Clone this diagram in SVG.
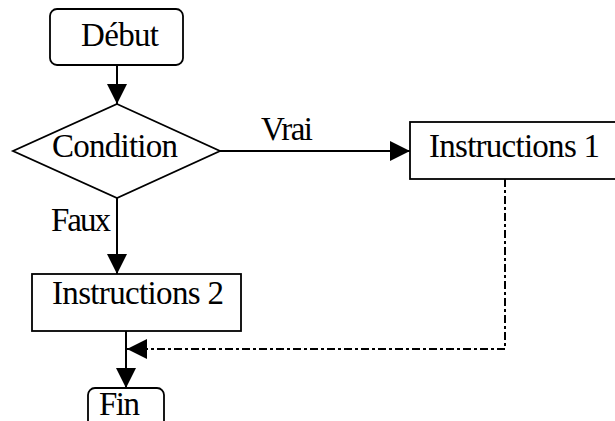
<svg xmlns="http://www.w3.org/2000/svg" width="615" height="421" viewBox="0 0 615 421">
<style>
.box{fill:#fff;stroke:#000;stroke-width:1.8}
.lbl{font-family:"Liberation Serif","Times New Roman",serif;font-size:33px;fill:#000}
.ln{fill:none;stroke:#000;stroke-width:2}
.dd{stroke-dasharray:8 3 3 3}
</style>
<defs>
<marker id="ah" markerUnits="userSpaceOnUse" markerWidth="20" markerHeight="20" refX="20" refY="10" orient="auto" viewBox="0 0 20 20">
<path d="M0,0 L20,10 L0,20 z" fill="#000"/>
</marker>
</defs>
<rect width="615" height="421" fill="#fff"/>
<g id="connectors">
<line class="ln" x1="117" y1="65" x2="117" y2="104" marker-end="url(#ah)"/>
<line class="ln" x1="220" y1="151" x2="410" y2="151" marker-end="url(#ah)"/>
<line class="ln" x1="117" y1="198" x2="117" y2="274" marker-end="url(#ah)"/>
<line class="ln" x1="126" y1="331" x2="126" y2="388" marker-end="url(#ah)"/>
<polyline class="ln dd" points="505,179 505,349 127,349" marker-end="url(#ah)"/>
<text class="lbl" x="261" y="140" textLength="52">Vrai</text>
<text class="lbl" x="51" y="231" textLength="60">Faux</text>
</g>
<g id="debut">
<rect class="box" x="50" y="9" width="133" height="56" rx="7"/>
<text class="lbl" x="81" y="46" textLength="78">Début</text>
</g>
<g id="condition">
<polygon class="box" points="117,104 220,151 117,198 13,151"/>
<text class="lbl" x="52" y="157" textLength="126">Condition</text>
</g>
<g id="instructions1">
<rect class="box" x="410" y="122" width="215" height="57"/>
<text class="lbl" x="429" y="157" textLength="171">Instructions 1</text>
</g>
<g id="instructions2">
<rect class="box" x="32" y="274" width="209" height="57"/>
<text class="lbl" x="52" y="304" textLength="172">Instructions 2</text>
</g>
<g id="fin">
<rect class="box" x="88" y="388" width="76" height="50" rx="7"/>
<text class="lbl" x="99" y="415" textLength="41">Fin</text>
</g>
</svg>
